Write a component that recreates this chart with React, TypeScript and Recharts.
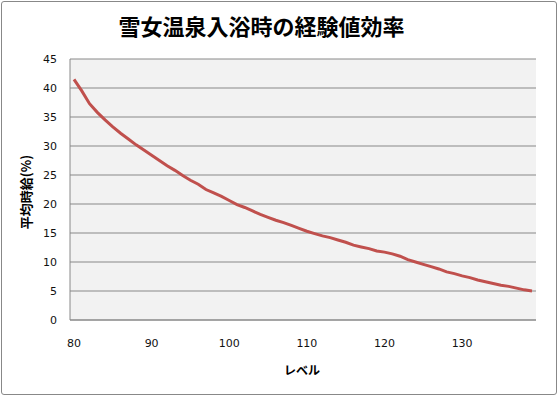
import React from "react";
import { LineChart, Line, XAxis, YAxis, CartesianGrid } from "recharts";

// levels 80..139
const levels = [
  80, 81, 82, 83, 84, 85, 86, 87, 88, 89,
  90, 91, 92, 93, 94, 95, 96, 97, 98, 99,
  100, 101, 102, 103, 104, 105, 106, 107, 108, 109,
  110, 111, 112, 113, 114, 115, 116, 117, 118, 119,
  120, 121, 122, 123, 124, 125, 126, 127, 128, 129,
  130, 131, 132, 133, 134, 135, 136, 137, 138, 139,
];

// 平均時給(%)
const hourly = [
  41.5, 39.5, 37.3, 35.8, 34.5, 33.3, 32.2, 31.2, 30.2, 29.3,
  28.4, 27.5, 26.6, 25.8, 24.9, 24.1, 23.4, 22.5, 21.9, 21.3,
  20.6, 19.9, 19.4, 18.8, 18.2, 17.7, 17.2, 16.8, 16.3, 15.8,
  15.3, 14.9, 14.5, 14.2, 13.8, 13.4, 12.9, 12.6, 12.3, 11.9,
  11.7, 11.4, 11.0, 10.4, 10.0, 9.6, 9.2, 8.8, 8.3, 8.0,
  7.6, 7.3, 6.9, 6.6, 6.3, 6.0, 5.8, 5.5, 5.2, 5.0,
];

const yTicks = [0, 5, 10, 15, 20, 25, 30, 35, 40, 45];

const data = levels.map((level, i) => ({ level, v: hourly[i] }));

const tickStyle = { fill: "#111", fontSize: 11, fontFamily: "DejaVu Sans" };
const labelFont = "'Noto Sans CJK JP', sans-serif";

export default function App() {
  return (
    <div style={{ position: "absolute", left: 0, top: 0, width: 558, height: 396, background: "#fff" }}>
      <div
        style={{
          position: "absolute",
          left: 1,
          top: 1,
          width: 556,
          height: 394,
          boxSizing: "border-box",
          border: "1px solid #888",
          borderRadius: 3,
        }}
      />
      <LineChart
        width={558}
        height={396}
        data={data}
        margin={{ top: 59, right: 22, left: 0, bottom: 0 }}
      >
        <CartesianGrid vertical={false} stroke="#888" fill="#f2f2f2" />
        <XAxis
          dataKey="level"
          interval={9}
          tickLine={false}
          axisLine={{ stroke: "#888" }}
          tick={tickStyle}
          tickMargin={13}
          height={76}
          padding={{ left: 4, right: 4 }}
        />
        <YAxis
          domain={[0, 45]}
          ticks={yTicks}
          width={70}
          tickLine={false}
          axisLine={{ stroke: "#888" }}
          tick={tickStyle}
          tickMargin={7}
        />
        <Line
          type="linear"
          dataKey="v"
          stroke="#c0504d"
          strokeWidth={3}
          dot={false}
          isAnimationActive={false}
        />
      </LineChart>
      <div
        style={{
          position: "absolute",
          left: 0,
          top: 10,
          width: 523,
          textAlign: "center",
          fontFamily: labelFont,
          fontWeight: 700,
          fontSize: 22,
          lineHeight: "30px",
          color: "#000",
        }}
      >
        雪女温泉入浴時の経験値効率
      </div>
      <div
        style={{
          position: "absolute",
          left: 25,
          top: 192,
          transform: "translate(-50%, -50%) rotate(-90deg)",
          whiteSpace: "nowrap",
          fontFamily: labelFont,
          fontWeight: 700,
          fontSize: 13,
          color: "#000",
        }}
      >
        平均時給(%)
      </div>
      <div
        style={{
          position: "absolute",
          left: 302,
          top: 369,
          transform: "translate(-50%, -50%)",
          whiteSpace: "nowrap",
          fontFamily: labelFont,
          fontWeight: 700,
          fontSize: 12,
          color: "#000",
        }}
      >
        レベル
      </div>
    </div>
  );
}
